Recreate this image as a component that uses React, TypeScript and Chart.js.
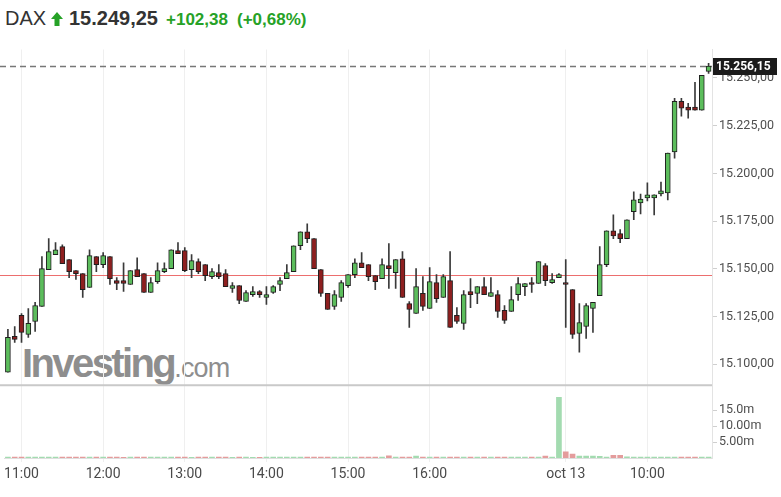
import { useEffect, useRef } from "react";
import { Chart, registerables } from "chart.js";

Chart.register(...registerables);

// 5-minute candles: 12 Oct 10:50–17:35, 13 Oct 09:00–10:45
const times: string[] = (
  "10:50 10:55 " +
  "11:00 11:05 11:10 11:15 11:20 11:25 11:30 11:35 11:40 11:45 11:50 11:55 " +
  "12:00 12:05 12:10 12:15 12:20 12:25 12:30 12:35 12:40 12:45 12:50 12:55 " +
  "13:00 13:05 13:10 13:15 13:20 13:25 13:30 13:35 13:40 13:45 13:50 13:55 " +
  "14:00 14:05 14:10 14:15 14:20 14:25 14:30 14:35 14:40 14:45 14:50 14:55 " +
  "15:00 15:05 15:10 15:15 15:20 15:25 15:30 15:35 15:40 15:45 15:50 15:55 " +
  "16:00 16:05 16:10 16:15 16:20 16:25 16:30 16:35 16:40 16:45 16:50 16:55 " +
  "17:00 17:05 17:10 17:15 17:20 17:25 17:30 17:35 " +
  "09:00 09:05 09:10 09:15 09:20 09:25 09:30 09:35 09:40 09:45 09:50 09:55 " +
  "10:00 10:05 10:10 10:15 10:20 10:25 10:30 10:35 10:40 10:45"
).split(" ");

const opens: number[] = [
  15095.8, 15114.6, 15125.6, 15115.7, 15122.4, 15130.3, 15149.6, 15157.4, 15161.6, 15154.8,
  15149.1, 15147.5, 15140.2, 15156.4, 15152.2, 15156.4, 15143.8, 15143.8, 15141.8, 15149.6,
  15147.5, 15137.6, 15143.3, 15148.5, 15150.1, 15159.5, 15159.5, 15149.6, 15153.8, 15152.2,
  15145.9, 15148.0, 15147.5, 15139.7, 15141.2, 15132.9, 15136.5, 15138.1, 15135.0, 15137.6,
  15141.8, 15144.9, 15148.5, 15162.1, 15169.4, 15165.8, 15149.6, 15137.1, 15130.3, 15135.0,
  15141.2, 15147.0, 15153.2, 15152.2, 15146.4, 15144.9, 15151.7, 15148.0, 15155.3, 15131.8,
  15126.6, 15137.1, 15129.2, 15142.8, 15135.0, 15143.8, 15125.6, 15121.4, 15138.1, 15137.1,
  15140.7, 15135.5, 15136.5, 15128.2, 15127.7, 15136.5, 15140.7, 15142.8, 15142.3, 15151.7,
  15142.8, 15145.4, 15142.8, 15139.1, 15116.2, 15119.8, 15129.2, 15136.0, 15152.2, 15169.9,
  15168.4, 15165.8, 15179.9, 15184.5, 15187.2, 15187.2, 15189.2, 15189.8, 15211.2, 15237.8,
  15234.7, 15234.7, 15233.1, 15253.4,
];
const highs: number[] = [
  15118.3, 15119.8, 15126.6, 15129.2, 15132.4, 15156.4, 15165.8, 15163.7, 15162.6, 15154.8,
  15149.1, 15147.5, 15160.0, 15156.4, 15158.5, 15156.4, 15145.4, 15153.2, 15149.1, 15155.8,
  15147.5, 15145.4, 15153.2, 15153.2, 15160.0, 15163.7, 15161.1, 15157.4, 15155.3, 15152.2,
  15150.1, 15152.2, 15149.6, 15142.8, 15141.2, 15138.6, 15140.7, 15138.6, 15140.7, 15141.2,
  15145.4, 15152.2, 15162.1, 15169.4, 15173.6, 15165.8, 15149.6, 15137.1, 15138.6, 15143.8,
  15147.0, 15155.3, 15158.5, 15152.2, 15146.4, 15155.3, 15163.2, 15154.8, 15159.0, 15132.9,
  15150.1, 15145.9, 15150.6, 15147.0, 15147.0, 15159.0, 15129.7, 15138.6, 15144.9, 15140.7,
  15145.4, 15145.4, 15138.6, 15130.8, 15140.7, 15145.4, 15142.3, 15145.4, 15153.8, 15152.7,
  15147.5, 15147.5, 15154.8, 15139.1, 15131.8, 15131.8, 15132.4, 15161.6, 15169.9, 15178.3,
  15170.5, 15175.7, 15190.3, 15189.2, 15195.0, 15188.7, 15195.5, 15210.6, 15239.3, 15239.3,
  15236.7, 15247.7, 15251.4, 15257.6,
];
const lows: number[] = [
  15095.8, 15111.5, 15111.5, 15114.1, 15117.2, 15130.3, 15149.6, 15157.4, 15152.7, 15145.4,
  15144.4, 15135.0, 15140.2, 15148.5, 15150.6, 15141.8, 15139.1, 15138.1, 15141.8, 15145.9,
  15137.6, 15137.6, 15142.3, 15148.0, 15150.1, 15157.9, 15148.5, 15145.4, 15147.5, 15143.8,
  15144.9, 15144.9, 15140.7, 15137.6, 15131.8, 15132.9, 15135.5, 15135.0, 15131.3, 15137.1,
  15138.6, 15144.9, 15148.5, 15160.0, 15163.7, 15150.1, 15135.5, 15128.7, 15128.7, 15132.9,
  15140.2, 15145.4, 15150.6, 15143.8, 15139.1, 15144.9, 15139.7, 15139.7, 15135.0, 15119.3,
  15126.6, 15128.2, 15129.2, 15132.4, 15135.0, 15119.3, 15121.4, 15118.3, 15129.7, 15131.8,
  15136.5, 15135.5, 15124.5, 15121.4, 15127.7, 15133.4, 15136.0, 15137.6, 15142.3, 15141.2,
  15142.3, 15145.4, 15119.3, 15113.6, 15106.3, 15113.6, 15116.7, 15136.0, 15151.1, 15165.8,
  15163.7, 15165.8, 15175.7, 15178.8, 15185.6, 15178.3, 15188.2, 15186.1, 15208.0, 15230.0,
  15228.9, 15233.1, 15233.1, 15252.4,
];
const closes: number[] = [
  15114.1, 15113.0, 15116.7, 15121.4, 15130.8, 15150.1, 15159.0, 15160.0, 15152.7, 15148.5,
  15147.5, 15139.1, 15156.9, 15152.2, 15156.9, 15144.9, 15142.3, 15142.3, 15149.1, 15145.9,
  15137.6, 15142.8, 15149.1, 15150.1, 15160.0, 15157.9, 15149.1, 15154.3, 15148.5, 15146.4,
  15148.5, 15145.9, 15140.7, 15141.2, 15133.4, 15137.6, 15138.1, 15136.5, 15136.5, 15140.7,
  15143.8, 15148.0, 15162.1, 15169.4, 15165.8, 15150.1, 15137.1, 15128.7, 15136.5, 15142.8,
  15147.0, 15153.2, 15150.6, 15145.9, 15143.3, 15152.2, 15150.1, 15154.8, 15135.0, 15128.7,
  15140.7, 15130.3, 15143.3, 15134.4, 15145.9, 15119.3, 15122.4, 15136.5, 15136.5, 15140.7,
  15136.5, 15137.6, 15127.7, 15123.0, 15133.9, 15142.3, 15142.3, 15141.8, 15153.8, 15143.8,
  15144.4, 15147.0, 15141.8, 15115.7, 15121.9, 15130.8, 15132.4, 15152.2, 15169.9, 15167.3,
  15165.8, 15175.7, 15186.1, 15186.6, 15188.7, 15188.7, 15190.8, 15210.6, 15237.8, 15234.1,
  15233.1, 15233.1, 15251.4, 15256.15,
];
// volume in millions
const volumes: number[] = [
  0.3, 0.3, 0.3, 0.3, 0.3, 0.3, 0.3, 0.3, 0.3, 0.3,
  0.3, 0.3, 0.3, 0.3, 0.3, 0.3, 0.3, 0.2, 0.3, 0.3,
  0.3, 0.3, 0.3, 0.3, 0.3, 0.3, 0.3, 0.2, 0.3, 0.3,
  0.3, 0.3, 0.3, 0.2, 0.3, 0.3, 0.2, 0.2, 0.3, 0.3,
  0.3, 0.3, 0.3, 0.3, 0.3, 0.3, 0.3, 0.3, 0.3, 0.3,
  0.3, 0.3, 0.3, 0.3, 0.3, 0.3, 0.7, 0.3, 0.3, 0.3,
  0.6, 0.3, 0.3, 0.3, 0.3, 0.3, 0.3, 0.3, 0.3, 0.3,
  0.3, 0.3, 0.3, 0.3, 0.3, 0.3, 0.3, 0.3, 0.3, 0.6,
  0.3, 19.0, 1.9, 1.2, 0.6, 0.6, 0.6, 0.5, 0.3, 0.8,
  0.8, 0.4, 0.3, 0.3, 0.3, 0.3, 0.3, 0.3, 0.3, 0.3,
  0.3, 0.3, 0.3, 0.3,
];

const priceTicks: number[] = [15100, 15125, 15150, 15175, 15200, 15225, 15250];
const volTicks: number[] = [5, 10, 15];
const volTickLabels: string[] = ["5.00m", "10.00m", "15.0m"];
const tickTimes: string[] = ["11:00", "12:00", "13:00", "14:00", "15:00", "16:00", "09:00", "10:00"];
const tickLabels: string[] = ["11:00", "12:00", "13:00", "14:00", "15:00", "16:00", "oct 13", "10:00"];

const prevClose = 15146.87;
const lastPrice = 15256.15;
const symbol = "DAX";
const headerPrice = "15.249,25";
const headerChange = "+102,38";
const headerPct = "(+0,68%)";

const GREEN = "#26a227";
const AXIS_FONT = "Roboto, 'Liberation Sans', Arial, sans-serif";

function fmt(n: number): string {
  const [i, d] = n.toFixed(2).split(".");
  return i.replace(/\B(?=(\d{3})+(?!\d))/g, ".") + "," + d;
}

export default function App() {
  const canvasRef = useRef<HTMLCanvasElement | null>(null);

  useEffect(() => {
    const canvas = canvasRef.current;
    if (!canvas) return;
    const up = closes.map((c, i) => c >= opens[i]);

    const overlay = {
      id: "overlay",
      beforeDatasetsDraw(chart: any) {
        const { ctx, chartArea, scales } = chart;
        const y = scales.y;
        ctx.save();
        // separator between price and volume panes
        ctx.strokeStyle = "#c9c9c9";
        ctx.lineWidth = 2;
        ctx.beginPath();
        ctx.moveTo(0, y.bottom);
        ctx.lineTo(chartArea.right, y.bottom);
        ctx.stroke();
        // previous close
        const py = Math.round(y.getPixelForValue(prevClose)) + 0.5;
        ctx.strokeStyle = "rgb(236, 110, 110)";
        ctx.lineWidth = 1;
        ctx.beginPath();
        ctx.moveTo(0, py);
        ctx.lineTo(chartArea.right, py);
        ctx.stroke();
        // last price dashed
        const ly = Math.round(y.getPixelForValue(lastPrice)) + 0.5;
        ctx.strokeStyle = "#777";
        ctx.lineWidth = 1.3;
        ctx.setLineDash([6, 4]);
        ctx.beginPath();
        ctx.moveTo(0, ly);
        ctx.lineTo(chartArea.right, ly);
        ctx.stroke();
        ctx.restore();
      },
      afterDraw(chart: any) {
        const { ctx, chartArea, scales } = chart;
        const y = scales.y;
        const ly = Math.round(y.getPixelForValue(lastPrice));
        ctx.save();
        ctx.fillStyle = "#1b1b1b";
        ctx.fillRect(chartArea.right + 1, ly - 8, 64, 17);
        ctx.fillStyle = "#fff";
        ctx.font = "bold 12px " + AXIS_FONT;
        ctx.textBaseline = "middle";
        ctx.textAlign = "left";
        ctx.fillText(fmt(lastPrice), chartArea.right + 4, ly + 1);
        ctx.restore();
      },
    };

    const chart = new Chart(canvas, {
      type: "bar",
      data: {
        labels: times,
        datasets: [
          {
            label: "body",
            data: opens.map((o, i) => [o, closes[i]]) as any,
            backgroundColor: up.map((u) => (u ? "#5cbd5c" : "#8e1f1f")),
            borderColor: "#1f1f1f",
            borderWidth: 1,
            borderSkipped: false,
            barThickness: 5,
            grouped: false,
            yAxisID: "y",
            order: 1,
          },
          {
            label: "wick",
            data: lows.map((l, i) => [l, highs[i]]) as any,
            backgroundColor: "#3a3a3a",
            borderWidth: 0,
            barThickness: 1,
            grouped: false,
            yAxisID: "y",
            order: 2,
          },
          {
            label: "volume",
            data: volumes,
            backgroundColor: up.map((u) => (u ? "#a3dbb0" : "#e49c9c")),
            borderWidth: 0,
            barThickness: 5,
            grouped: false,
            yAxisID: "yVol",
            order: 3,
          },
        ],
      },
      options: {
        responsive: false,
        animation: false,
        devicePixelRatio: 1,
        layout: { padding: { left: 3.5, top: 8, right: 0, bottom: 0 } },
        plugins: { legend: { display: false }, tooltip: { enabled: false } },
        scales: {
          x: {
            type: "category",
            offset: true,
            grid: { offset: false, color: "#efefef", drawTicks: true, tickLength: 4 },
            border: { color: "#dedede" },
            ticks: {
              autoSkip: false,
              maxRotation: 0,
              padding: 4,
              color: "#4a4a4a",
              font: { family: AXIS_FONT, size: 14 },
              callback: (v: any) => tickLabels[tickTimes.indexOf(times[v as number])] ?? "",
            },
            afterBuildTicks: (s: any) => {
              s.ticks = s.ticks.filter((t: any) => tickTimes.includes(times[t.value]));
            },
            afterFit: (s: any) => {
              s.height = 39;
            },
          },
          y: {
            type: "linear",
            position: "right",
            stack: "right",
            stackWeight: 337,
            min: 15089.0,
            max: 15264.9,
            grid: { drawOnChartArea: false, drawTicks: true, tickLength: 5, color: "#cfcfcf" },
            border: { color: "#e3e3e3" },
            ticks: {
              padding: 2,
              color: "#4f4f4f",
              font: { family: AXIS_FONT, size: 12.5 },
              callback: (v: any) => fmt(Number(v)),
            },
            afterBuildTicks: (s: any) => {
              s.ticks = priceTicks.map((v) => ({ value: v }));
            },
            afterFit: (s: any) => {
              s.width = 69;
            },
          },
          yVol: {
            type: "linear",
            position: "right",
            stack: "right",
            stackWeight: 73,
            min: 0,
            max: 22.8,
            grid: { drawOnChartArea: false, drawTicks: true, tickLength: 5, color: "#cfcfcf" },
            border: { color: "#e3e3e3" },
            ticks: {
              padding: 2,
              color: "#4f4f4f",
              font: { family: AXIS_FONT, size: 12.5 },
              callback: (v: any) => volTickLabels[volTicks.indexOf(Number(v))] ?? "",
            },
            afterBuildTicks: (s: any) => {
              s.ticks = volTicks.map((v) => ({ value: v }));
            },
            afterFit: (s: any) => {
              s.width = 69;
            },
          },
        },
      } as any,
      plugins: [overlay],
    });
    return () => chart.destroy();
  }, []);

  const hdrFont = "'Liberation Sans', Arial, sans-serif";
  return (
    <div
      style={{
        position: "fixed",
        left: 0,
        top: 0,
        width: 781,
        height: 497,
        background: "#fff",
        overflow: "hidden",
        fontFamily: hdrFont,
      }}
    >
      <span style={{ position: "absolute", left: 5, top: 8, fontSize: 20, lineHeight: "20px", color: "#333" }}>
        {symbol}
      </span>
      <svg style={{ position: "absolute", left: 51, top: 12 }} width="12" height="14" viewBox="0 0 12 14">
        <polygon points="6,0 12,7 8.5,7 8.5,14 3.5,14 3.5,7 0,7" fill={GREEN} />
      </svg>
      <span
        style={{ position: "absolute", left: 69, top: 8, fontSize: 20, lineHeight: "20px", fontWeight: 700, color: "#333" }}
      >
        {headerPrice}
      </span>
      <span
        style={{ position: "absolute", left: 166, top: 10.6, fontSize: 17, lineHeight: "17px", fontWeight: 700, color: GREEN }}
      >
        {headerChange}
      </span>
      <span
        style={{ position: "absolute", left: 237, top: 10.6, fontSize: 17, lineHeight: "17px", fontWeight: 700, color: GREEN }}
      >
        {headerPct}
      </span>
      <div
        style={{
          position: "absolute",
          left: 22,
          top: 343,
          lineHeight: "40px",
          color: "#8e8e8e",
          whiteSpace: "nowrap",
          fontFamily: hdrFont,
        }}
      >
        <span style={{ fontSize: 40, fontWeight: 700, letterSpacing: -2.6 }}>Investing</span>
        <span style={{ fontSize: 27, fontWeight: 400, letterSpacing: -0.8 }}>.com</span>
      </div>
      <canvas
        ref={canvasRef}
        width={781}
        height={457}
        style={{ position: "absolute", left: 0, top: 40, width: 781, height: 457 }}
      />
    </div>
  );
}
